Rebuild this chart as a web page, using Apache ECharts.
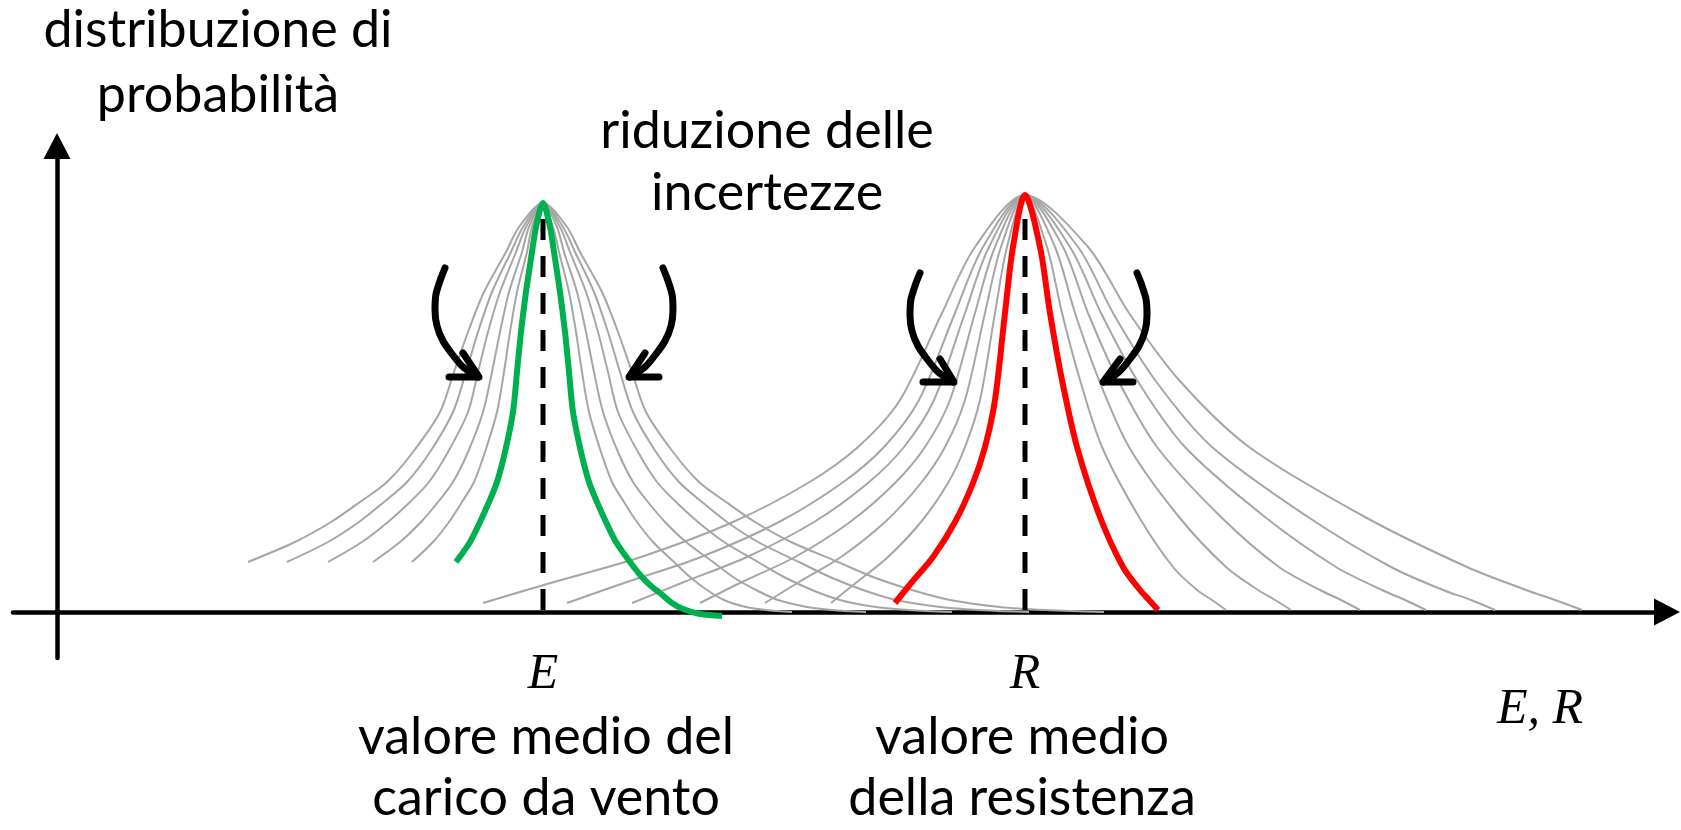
<!DOCTYPE html>
<html>
<head>
<meta charset="utf-8">
<script src="https://cdn.jsdelivr.net/npm/echarts@6/dist/echarts.min.js"></script>
<style>
html,body{margin:0;padding:0;background:#ffffff;}
#chart{width:1681px;height:830px;}
</style>
</head>
<body>
<div id="chart"></div>
<script>
// ---------------- data (x = position on the E,R axis, y = probability density, figure units) ----------------
const E_MEAN = 543, E_TOP = 409;
const R_MEAN = 1025, R_TOP = 417;

// load family (E): heights at which the curves are sampled, bottom -> top
const eLevels = [50, 70, 90, 110, 130, 160, 200, 240, 280, 320, 360, 385];
const eTailLevels = [35, 22, 12, 5, 2, 0];
// grey curves, inner -> outer
const eGrayLeft = [
  [412, 433, 449, 462, 474, 485, 497, 504, 510, 517, 527, 532],
  [373, 400, 421, 438, 453, 468, 483, 492, 500, 509, 522, 529],
  [328, 362, 388, 410, 429, 448, 468, 478, 488, 500, 516, 526],
  [287, 328, 359, 384, 407, 430, 453, 466, 478, 492, 511, 523],
  [248, 295, 331, 360, 387, 413, 440, 454, 468, 484, 506, 519]
];
const eGrayRight = [
  [674, 653, 637, 624, 612, 601, 589, 582, 576, 569, 559, 553],
  [713, 686, 665, 648, 633, 618, 603, 594, 586, 577, 564, 557],
  [758, 724, 698, 676, 657, 638, 618, 608, 598, 586, 570, 560],
  [799, 758, 727, 702, 679, 656, 633, 620, 608, 594, 575, 563],
  [838, 791, 755, 726, 699, 673, 646, 632, 618, 602, 580, 567]
];
const eGrayTail = [
  [690, 707, 724, 746, 766, 792],
  [733, 756, 778, 807, 832, 866],
  [784, 812, 840, 876, 909, 952],
  [830, 863, 896, 940, 978, 1029],
  [873, 912, 950, 1000, 1045, 1104]
];
// green (reduced uncertainty) load curve
const eGreenLeft  = [456, 470, 480, 489, 497, 505, 513, 517, 521, 526, 532, 536];
const eGreenRight = [630, 616, 606, 597, 589, 581, 573, 569, 565, 560, 554, 550];
const eGreenTail  = [[641, 36], [651, 26], [660, 19], [672, 9], [683, 3], [700, -2], [722, -4]];

// resistance family (R)
const rLeftLevels  = [9, 30, 55, 90, 129, 165, 212, 299, 365];
const rRightLevels = [2, 12, 22, 45, 95, 165, 232, 299, 365];
const rGrayLeft = [
  [831, 857, 888, 921, 948, 965, 980, 995, 1007],
  [765, 799, 841, 885, 921, 945, 965, 985, 1001],
  [700, 742, 795, 850, 895, 925, 950, 975, 995],
  [632, 684, 747, 814, 868, 904, 934, 965, 989],
  [567, 627, 701, 779, 842, 884, 919, 955, 983],
  [483, 554, 641, 733, 808, 858, 900, 942, 975]
];
const rGrayRight = [
  [1226, 1212, 1197, 1173, 1139, 1102, 1080, 1062, 1047],
  [1291, 1275, 1258, 1226, 1179, 1129, 1099, 1075, 1055],
  [1360, 1341, 1320, 1279, 1221, 1157, 1118, 1088, 1063],
  [1426, 1405, 1382, 1336, 1265, 1185, 1137, 1101, 1070],
  [1495, 1471, 1443, 1391, 1308, 1212, 1155, 1113, 1078],
  [1582, 1555, 1526, 1467, 1365, 1249, 1179, 1129, 1088]
];
const rRedLeft  = [895, 912, 933, 955, 973, 985, 995, 1005, 1013];
const rRedRight = [1158, 1149, 1140, 1123, 1100, 1077, 1062, 1050, 1040];

// mean value markers (dashed)
const meanLineTop = 393;

// curved arrows: shaft and open head
const arrowShafts = [
  [[445, 344], [441, 334], [436, 318], [435, 302], [437, 286], [443, 271], [452, 258], [462, 246], [474, 237], [478, 235]],
  [[663, 344], [667, 334], [672, 318], [673, 302], [671, 286], [665, 271], [656, 258], [646, 246], [634, 237], [630, 235]],
  [[920, 339], [916, 329], [911, 313], [910, 297], [912, 281], [918, 266], [927, 253], [937, 241], [949, 232], [953, 230]],
  [[1137, 339], [1141, 329], [1146, 313], [1147, 297], [1145, 281], [1139, 266], [1130, 253], [1120, 241], [1108, 232], [1104, 230]]
];
const arrowHeads = [
  [[449, 235], [479, 235], [463, 259]],
  [[659, 235], [629, 235], [645, 259]],
  [[923, 230], [954, 230], [940, 253]],
  [[1133, 230], [1103, 230], [1120, 253]]
];

// texts
const yAxisTitle = 'distribuzione di\nprobabilità';
const reductionText = 'riduzione delle\nincertezze';
const eSymbol = 'E', rSymbol = 'R', axisSymbol = 'E, R';
const eCaption = 'valore medio del\ncarico da vento';
const rCaption = 'valore medio\ndella resistenza';

// ---------------- build ----------------
function buildCurve(leftX, leftLv, meanX, top, rightX, rightLv, tail) {
  const pts = [];
  leftX.forEach((x, i) => pts.push([x, leftLv[i]]));
  pts.push([meanX, top]);
  for (let i = rightX.length - 1; i >= 0; i--) pts.push([rightX[i], rightLv[i]]);
  (tail || []).forEach(p => pts.push(p));
  return pts;
}

const GRAY = '#a6a6a6';
const series = [];
function lineSeries(data, color, width, extra) {
  return Object.assign({
    type: 'line', data: data, showSymbol: false, symbol: 'none',
    smooth: 0.3, silent: true, animation: false,
    lineStyle: { color: color, width: width }
  }, extra || {});
}

rGrayLeft.forEach((lx, i) => {
  series.push(lineSeries(buildCurve(lx, rLeftLevels, R_MEAN, R_TOP, rGrayRight[i], rRightLevels), GRAY, 2));
});
eGrayLeft.forEach((lx, i) => {
  const tail = eGrayTail[i].map((x, j) => [x, eTailLevels[j]]);
  series.push(lineSeries(buildCurve(lx, eLevels, E_MEAN, E_TOP, eGrayRight[i], eLevels, tail), GRAY, 2));
});
series.push(lineSeries(buildCurve(eGreenLeft, eLevels, E_MEAN, E_TOP, eGreenRight, eLevels, eGreenTail), '#00b050', 6));
series.push(lineSeries(buildCurve(rRedLeft, rLeftLevels, R_MEAN, R_TOP, rRedRight, rRightLevels), '#ff0000', 6));

[E_MEAN, R_MEAN].forEach(m => {
  series.push(lineSeries([[m, 2], [m, meanLineTop]], '#000', 5, {
    smooth: false, lineStyle: { color: '#000', width: 5, type: [21, 16] }
  }));
});

arrowShafts.forEach(s => series.push(lineSeries(s, '#000', 7, {
  smooth: 0.2, lineStyle: { color: '#000', width: 7, cap: 'round', join: 'round' }
})));
arrowHeads.forEach(h => series.push(lineSeries(h, '#000', 7, {
  smooth: false, lineStyle: { color: '#000', width: 7, cap: 'round', join: 'round' }
})));

const sans = { fontFamily: 'Lato', fontSize: 52, fontWeight: 'normal', color: '#000' };
const serif = { fontFamily: 'Liberation Serif', fontStyle: 'italic', fontSize: 50, fontWeight: 'normal', color: '#000', lineHeight: 50 };

const option = {
  backgroundColor: '#ffffff',
  animation: false,
  grid: { left: 13, right: 14, top: 146, bottom: 172, containLabel: false },
  xAxis: {
    type: 'value', min: 13, max: 1667,
    axisLine: { show: true, onZero: true, symbol: ['none', 'triangle'], symbolSize: [27, 26],
      lineStyle: { color: '#000', width: 4.5 } },
    axisTick: { show: false }, axisLabel: { show: false }, splitLine: { show: false }
  },
  yAxis: {
    type: 'value', min: -46, max: 466, offset: -44,
    axisLine: { show: true, onZero: false, symbol: ['none', 'triangle'], symbolSize: [27, 26],
      lineStyle: { color: '#000', width: 4.5 } },
    axisTick: { show: false }, axisLabel: { show: false }, splitLine: { show: false }
  },
  title: [
    { text: yAxisTitle, left: 218, top: -2, textAlign: 'center', padding: 0,
      textStyle: Object.assign({}, sans, { lineHeight: 65 }) },
    { text: reductionText, left: 767, top: 100, textAlign: 'center', padding: 0,
      textStyle: Object.assign({}, sans, { lineHeight: 62 }) },
    { text: eSymbol, left: E_MEAN, top: 650, textAlign: 'center', padding: 0, textStyle: serif },
    { text: rSymbol, left: R_MEAN, top: 650, textAlign: 'center', padding: 0, textStyle: serif },
    { text: axisSymbol, left: 1540, top: 685, textAlign: 'center', padding: 0, textStyle: serif },
    { text: eCaption, left: 546, top: 707, textAlign: 'center', padding: 0,
      textStyle: Object.assign({}, sans, { lineHeight: 61 }) },
    { text: rCaption, left: 1022, top: 707, textAlign: 'center', padding: 0,
      textStyle: Object.assign({}, sans, { lineHeight: 61 }) }
  ],
  series: series
};

const chart = echarts.init(document.getElementById('chart'), null, { renderer: 'canvas' });
chart.setOption(option);
</script>
</body>
</html>
